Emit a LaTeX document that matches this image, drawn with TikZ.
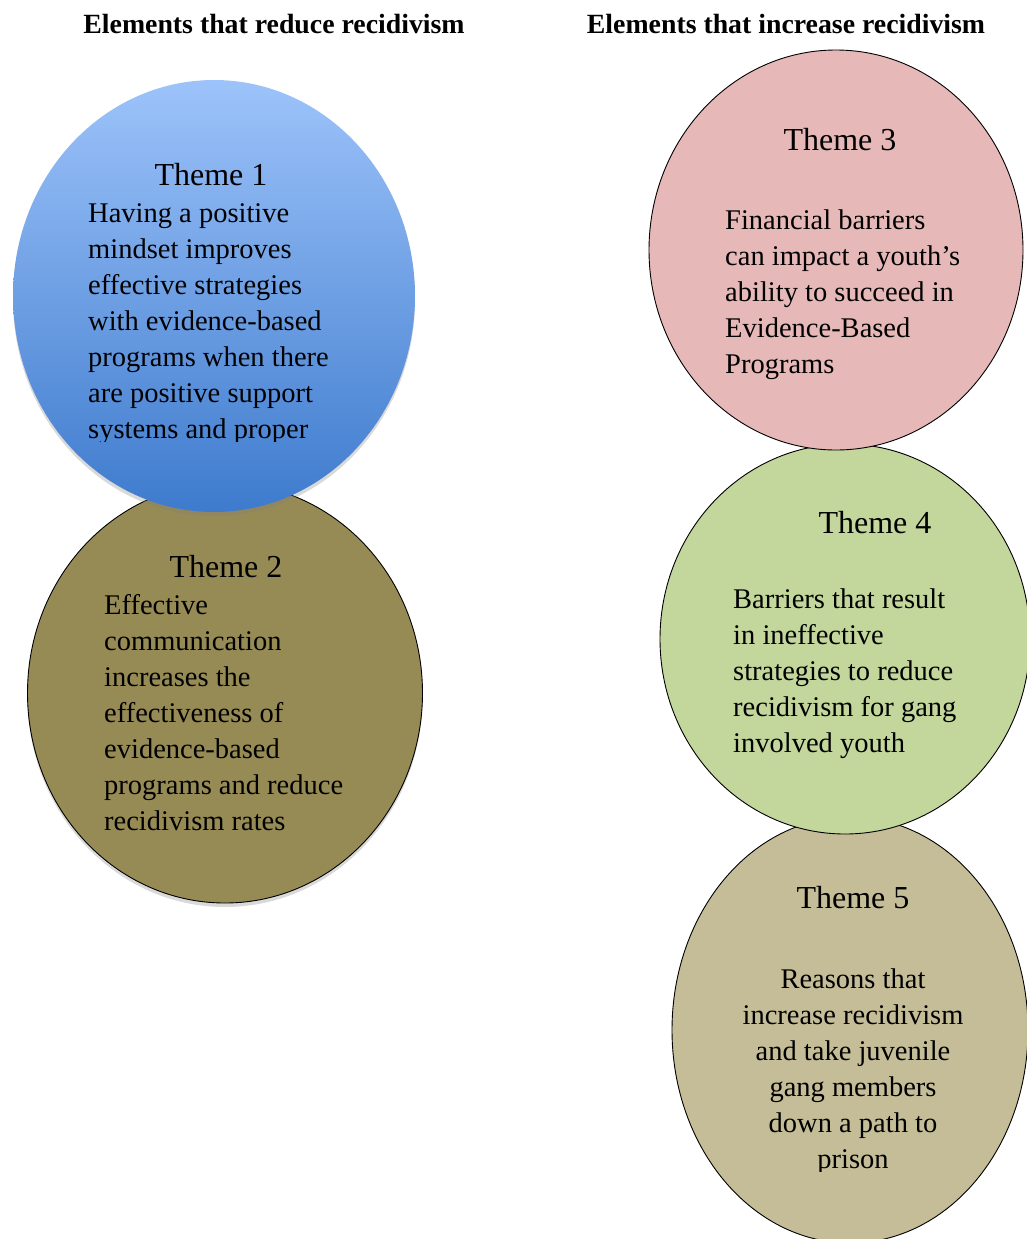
\documentclass[tikz,border=0pt]{standalone}
\usepackage{fontspec}
\setmainfont{Liberation Serif}
\usetikzlibrary{shapes.geometric,shadows}

\definecolor{bluetop}{HTML}{9DC3FA}
\definecolor{bluebot}{HTML}{3E7BCD}
\definecolor{olivefill}{HTML}{978B55}
\definecolor{pinkfill}{HTML}{E6B8B7}
\definecolor{greenfill}{HTML}{C3D69B}
\definecolor{tanfill}{HTML}{C4BD97}

\begin{document}
\begin{tikzpicture}[x=1pt,y=-1pt,
    bubble/.style={ellipse,draw=black,line width=0.9pt,inner sep=0pt},
    shade/.style={drop shadow={shadow xshift=0pt,shadow yshift=-4pt,opacity=0.3}},
    head/.style={font=\fontsize{27.8}{33}\selectfont\bfseries,anchor=base,inner sep=0pt},
    themename/.style={font=\fontsize{32}{38}\selectfont,anchor=base,inner sep=0pt},
    themetext/.style={font=\fontsize{28.5}{35.9}\selectfont,align=left,anchor=base west,inner sep=0pt}]
            \useasboundingbox (0,0) rectangle (1026,1239);
            \node[head] (lefthead) at (274,34) {Elements that reduce recidivism};
            \node[head] (righthead) at (786,34) {Elements that increase recidivism};
            \node[bubble,shade,fill=olivefill,minimum width=395pt,minimum height=420pt] (th2) at (225,693) {};
            \node[bubble,shade,draw=none,top color=bluetop,bottom color=bluebot,minimum width=402pt,minimum height=432pt] (th1) at (214,296) {};
            \node[bubble,fill=tanfill,minimum width=356pt,minimum height=426pt] (th5) at (850,1030) {};
            \node[bubble,fill=greenfill,minimum width=370pt,minimum height=390pt] (th4) at (845,639) {};
            \node[bubble,fill=pinkfill,minimum width=374pt,minimum height=400pt] (th3) at (836,250) {};
            \node[themename] (th1name) at (211,185) {Theme 1};
            \begin{scope}
                \clip (0,0) rectangle (1026,441);
                \node[themetext] (th1text) at (88,438) {Having a positive\\ mindset improves\\ effective strategies\\ with evidence-based\\ programs when there\\ are positive support\\ systems and proper};
            \end{scope}
            \node[themename] (th2name) at (226,577) {Theme 2};
            \node[themetext] (th2text) at (104,830) {Effective\\ communication\\ increases the\\ effectiveness of\\ evidence-based\\ programs and reduce\\ recidivism rates};
            \node[themename] (th3name) at (840,150) {Theme 3};
            \node[themetext] (th3text) at (725,373) {Financial barriers\\ can impact a youth’s\\ ability to succeed in\\ Evidence-Based\\ Programs};
            \node[themename] (th4name) at (875,533) {Theme 4};
            \node[themetext] (th4text) at (733,752) {Barriers that result\\ in ineffective\\ strategies to reduce\\ recidivism for gang\\ involved youth};
            \node[themename] (th5name) at (853,908) {Theme 5};
            \begin{scope}
                \clip (0,0) rectangle (1026,1171);
                \node[themetext,align=center,anchor=base] (th5text) at (853,1168) {Reasons that\\ increase recidivism\\ and take juvenile\\ gang members\\ down a path to\\ prison};
            \end{scope}
        \end{tikzpicture}
\end{document}
